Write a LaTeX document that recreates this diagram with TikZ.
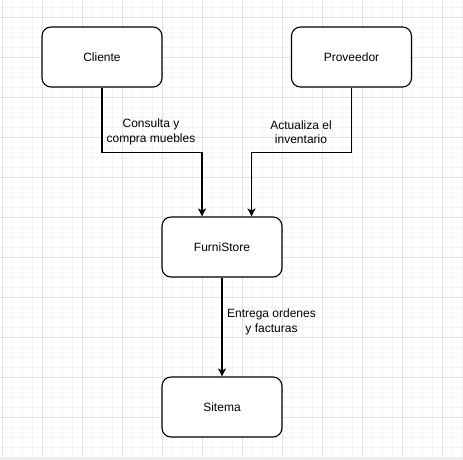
\documentclass[tikz,border=0pt]{standalone}
\usepackage{fontspec}
\setmainfont{Liberation Sans}
\usetikzlibrary{arrows.meta}
\definecolor{gridminor}{HTML}{F4F4F4}
\definecolor{gridmajor}{HTML}{E2E2E2}
\definecolor{stripgray}{HTML}{EDEDED}
\tikzset{
  box/.style={draw=black, fill=white, line width=1.1pt, rounded corners=9pt,
    minimum width=120pt, minimum height=60pt, inner sep=0pt,
    font=\fontsize{12}{14.4}\selectfont},
  lbl/.style={align=center, inner sep=0pt, font=\fontsize{12}{14.4}\selectfont},
  arr/.style={draw=black, line width=1.1pt, -{Stealth[length=8pt,width=8pt,inset=2pt]}}
}
\begin{document}
\begin{tikzpicture}[x=1pt,y=-1pt]
\useasboundingbox (0,0) rectangle (463,460);
\fill[white] (0,0) rectangle (463,460);
% grid
\foreach \x in {2,12,...,462} \draw[gridminor, line width=0.8pt] (\x,0) -- (\x,457);
\foreach \y in {7,17,...,457} \draw[gridminor, line width=0.8pt] (0,\y) -- (463,\y);
\foreach \x in {2,42,...,462} \draw[gridmajor, line width=0.8pt] (\x,0) -- (\x,457);
\foreach \y in {17,57,...,457} \draw[gridmajor, line width=0.8pt] (0,\y) -- (463,\y);
\fill[stripgray] (0,457) rectangle (463,460);
% nodes
\node[box] (cli) at (102,57) {Cliente};
\node[box] (prov) at (351.5,57) {Proveedor};
\node[box] (fs) at (222,247) {FurniStore};
\node[box] (sis) at (222,407) {Sitema};
% connectors
\draw[arr] (cli.south) -- ++(0,65) -| ([xshift=-20pt]fs.north);
\draw[arr] (prov.south) -- ++(0,65) -| ([xshift=29.5pt]fs.north);
\draw[arr] (fs.south) -- (sis.north);
% labels
\node[lbl] (l1) at (151,132) {Consulta y\\compra muebles};
\node[lbl] (l2) at (301,132) {Actualiza el\\inventario};
\node[lbl] (l3) at (271.5,322) {Entrega ordenes\\y facturas};
\end{tikzpicture}
\end{document}
